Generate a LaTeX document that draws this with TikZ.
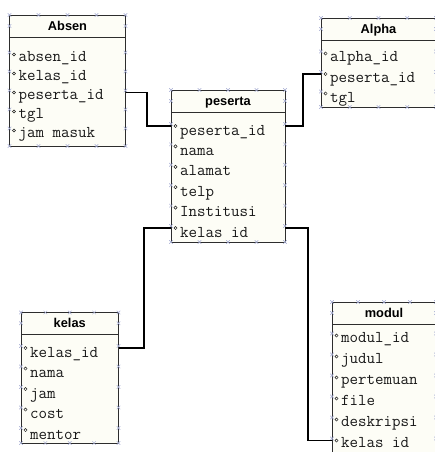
\documentclass[tikz,border=0pt]{standalone}
\usepackage{fontspec}
\newfontfamily\hdrfont{Liberation Sans}
\definecolor{boxline}{RGB}{45,45,45}
\definecolor{boxfill}{RGB}{253,253,246}
\definecolor{fieldtext}{RGB}{25,25,25}
\definecolor{hashc}{RGB}{165,172,210}
\tikzset{
  boxfr/.style={draw=boxline, fill=boxfill, line width=0.9pt, inner sep=0pt, outer sep=0pt},
  hdrtxt/.style={font=\hdrfont\bfseries\fontsize{12.8}{14}\selectfont, anchor=base, inner sep=0pt},
  fldtxt/.style={font=\ttfamily\fontsize{16.5}{18}\selectfont, anchor=base west, inner sep=0pt, text=fieldtext},
  dotmark/.style={circle, draw=fieldtext, line width=0.5pt, inner sep=0pt, minimum size=3.2pt},
  relline/.style={draw=black, line width=1.2pt},
  hashmark/.style={draw=hashc, line width=0.45pt}
}
\newcommand\hashx[2]{\draw[hashmark] ({#1-1.8},{#2-1.8}) -- ({#1+1.8},{#2+1.8}) ({#1-1.8},{#2+1.8}) -- ({#1+1.8},{#2-1.8});}
% name, left, top, right, bottom, header bottom, title, rows (text/baseline), dot offset
\newcommand\ERbox[9]{%
  \node[boxfr, minimum width={#4-#2}, minimum height={#5-#3}] (#1) at ({(#2+#4)/2},{(#3+#5)/2}) {};
  \draw[draw=boxline, line width=0.9pt] ({#2},{#6}) -- ({#4},{#6});
  \node[hdrtxt] (#1-title) at ({(#2+#4)/2},{(#3+#6)/2+4.5}) {#7};
  \foreach \tx/\yb [count=\i] in {#8} {
    \node[dotmark] (#1-\i) at ({#2+4.5},{\yb-#9}) {};
    \node[fldtxt] (#1-t\i) at ({#2+9},{\yb}) {\tx};
    \hashx{#2}{\yb-#9-2}
    \hashx{#4}{\yb-#9-2}
  }
  \foreach \k in {0,...,4} {
    \hashx{#2+\k*(#4-#2)/4}{#3}
    \hashx{#2+\k*(#4-#2)/4}{#5}
  }
  \hashx{#2}{(#3+#6)/2}
  \hashx{#4}{(#3+#6)/2}
}
\begin{document}
\begin{tikzpicture}[x=1pt,y=-1pt]
\useasboundingbox (0,0) rectangle (435,452);
\clip (0,0) rectangle (435,452);
\fill[white] (0,0) rectangle (435,452);

\ERbox{absen}{9.5}{15}{125.5}{146}{37}{Absen}
  {absen\_id/61.5, kelas\_id/80.5, peserta\_id/99.5, tgl/118.5, jam masuk/137.5}{7}
\ERbox{peserta}{171}{90}{285}{242}{112}{peserta}
  {peserta\_id/135, nama/155.4, alamat/175.8, telp/196.2, Institusi/216.6, kelas id/237}{9}
\ERbox{alpha}{321}{18}{436}{107}{40}{Alpha}
  {alpha\_id/62, peserta\_id/82.5, tgl/102}{8.5}
\ERbox{kelas}{21}{312.5}{118.5}{443}{334}{kelas}
  {kelas\_id/357, nama/377.5, jam/398, cost/418.5, mentor/439}{9}
\ERbox{modul}{332}{302}{436}{462}{324}{modul}
  {modul\_id/342, judul/363, pertemuan/384, file/405, deskripsi/426, kelas id/447}{6.5}

\draw[relline] (absen.east |- absen-3) -- ++(21.5,0) |- (peserta.west |- peserta-1);
\draw[relline] (peserta.east |- peserta-1) -- ++(18,0) |- (alpha.west |- alpha-2);
\draw[relline] (peserta.west |- peserta-6) -- ++(-27,0) |- (kelas.east |- kelas-1);
\draw[relline] (peserta.east |- peserta-6) -- ++(23,0) |- (modul.west |- modul-6);
\end{tikzpicture}
\end{document}
